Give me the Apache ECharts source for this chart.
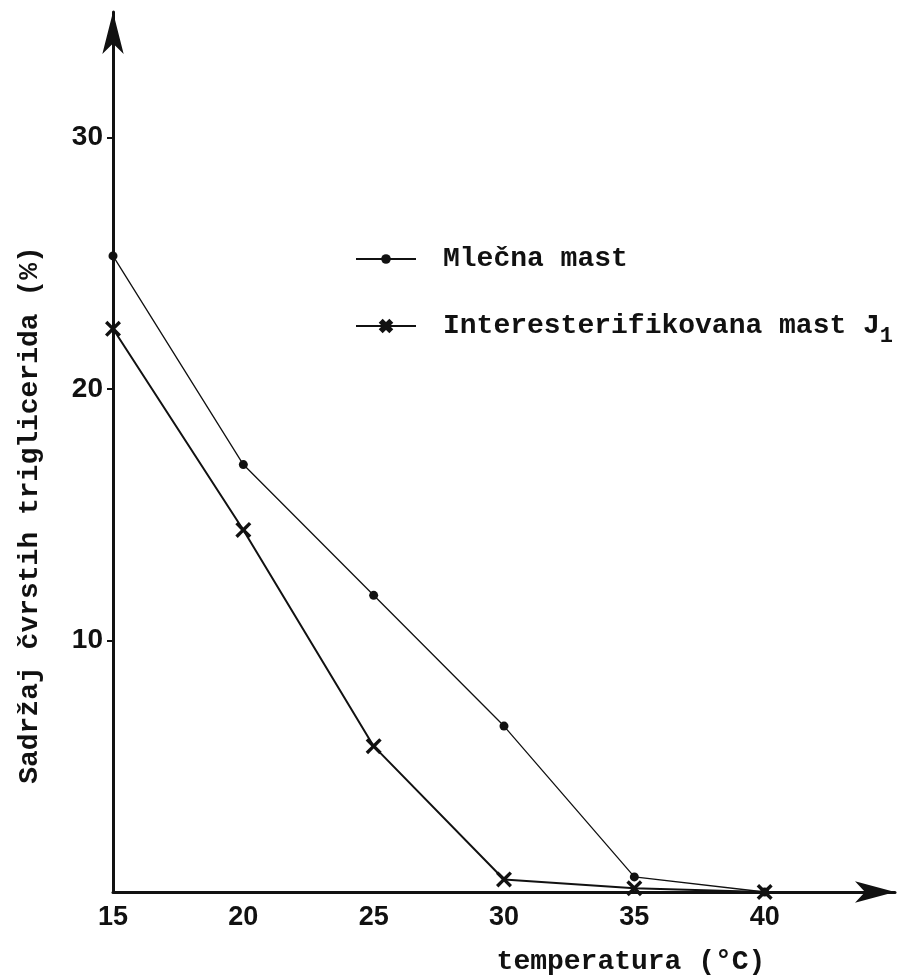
<!DOCTYPE html>
<html>
<head>
<meta charset="utf-8">
<script src="https://cdn.jsdelivr.net/npm/echarts@6/dist/echarts.min.js"></script>
<style>
  html, body { margin: 0; padding: 0; background: #fff; }
  #chart { width: 913px; height: 977px; }
</style>
</head>
<body>
<div id="chart"></div>
<script>
// temperature (°C) and solid triglyceride content (%)
var temps = [15, 20, 25, 30, 35, 40];
var mlecnaMast = [25.3, 17.0, 11.8, 6.6, 0.6, 0];
var interMast = [22.4, 14.4, 5.8, 0.5, 0.15, 0];
var xTicks = [15, 20, 25, 30, 35, 40];
var yTicks = [10, 20, 30];

var ink = '#111';
var crossPath = 'path://M0,1.5 L1.5,0 L5,3.5 L8.5,0 L10,1.5 L6.5,5 L10,8.5 L8.5,10 L5,6.5 L1.5,10 L0,8.5 L3.5,5 Z';

function pairs(ys) {
    return temps.map(function (t, i) { return [t, ys[i]]; });
}

var chart = echarts.init(document.getElementById('chart'));
var option = {
    backgroundColor: '#fff',
    animation: false,
    grid: {
        left: 113,
        right: 18,
        top: 12,
        bottom: 85,
        outerBoundsMode: 'none'
    },
    legend: {
        orient: 'vertical',
        left: 350,
        top: 240,
        itemWidth: 60,
        itemHeight: 12,
        itemGap: 39,
        selectedMode: false,
        textStyle: {
            fontFamily: 'Liberation Mono',
            fontWeight: 'bold',
            fontSize: 28,
            color: ink,
            padding: [0, 0, 0, 22],
            rich: {
                sub: {
                    fontFamily: 'Liberation Mono',
                    fontWeight: 'bold',
                    fontSize: 22,
                    color: ink,
                    padding: [20, 0, 0, 0]
                }
            }
        },
        formatter: function (name) {
            if (name === 'Interesterifikovana mast J1') {
                return 'Interesterifikovana mast J{sub|1}';
            }
            return name;
        },
        data: [
            { name: 'Mlečna mast' },
            {
                name: 'Interesterifikovana mast J1',
                itemStyle: { borderColor: ink, borderWidth: 3.5 }
            }
        ]
    },
    xAxis: {
        type: 'value',
        min: 15,
        max: 45,
        interval: 5,
        name: 'temperatura (°C)',
        nameLocation: 'middle',
        nameGap: 56,
        nameTextStyle: {
            fontFamily: 'Liberation Mono',
            fontWeight: 'bold',
            fontSize: 28,
            color: ink,
            padding: [0, 0, 0, 254]
        },
        axisLine: {
            show: true,
            symbol: ['none', 'arrow'],
            symbolSize: [16, 40],
            lineStyle: { color: ink, width: 3 }
        },
        axisTick: { show: false },
        splitLine: { show: false },
        axisLabel: {
            margin: 12,
            fontFamily: 'Liberation Sans',
            fontWeight: 'bold',
            fontSize: 27,
            color: ink,
            customValues: xTicks
        }
    },
    yAxis: {
        type: 'value',
        min: 0,
        max: 35,
        interval: 10,
        name: 'Sadržaj čvrstih triglicerida (%)',
        nameLocation: 'middle',
        nameRotate: 90,
        nameGap: 69,
        nameTextStyle: {
            fontFamily: 'Liberation Mono',
            fontWeight: 'bold',
            fontSize: 28,
            color: ink,
            padding: [0, 126, 0, 0]
        },
        axisLine: {
            show: true,
            symbol: ['none', 'arrow'],
            symbolSize: [16, 42],
            lineStyle: { color: ink, width: 3 }
        },
        axisTick: {
            show: true,
            length: 6,
            customValues: yTicks,
            lineStyle: { color: ink, width: 2 }
        },
        splitLine: { show: false },
        axisLabel: {
            margin: 10,
            fontFamily: 'Liberation Sans',
            fontWeight: 'bold',
            fontSize: 28,
            color: ink,
            customValues: yTicks
        }
    },
    series: [
        {
            name: 'Mlečna mast',
            type: 'line',
            data: pairs(mlecnaMast),
            symbol: 'circle',
            symbolSize: 9,
            showAllSymbol: true,
            lineStyle: { color: ink, width: 1.3 },
            itemStyle: { color: ink }
        },
        {
            name: 'Interesterifikovana mast J1',
            type: 'line',
            data: pairs(interMast),
            symbol: crossPath,
            symbolSize: 16,
            showAllSymbol: true,
            lineStyle: { color: ink, width: 2 },
            itemStyle: { color: ink }
        }
    ]
};
chart.setOption(option);
</script>
</body>
</html>
